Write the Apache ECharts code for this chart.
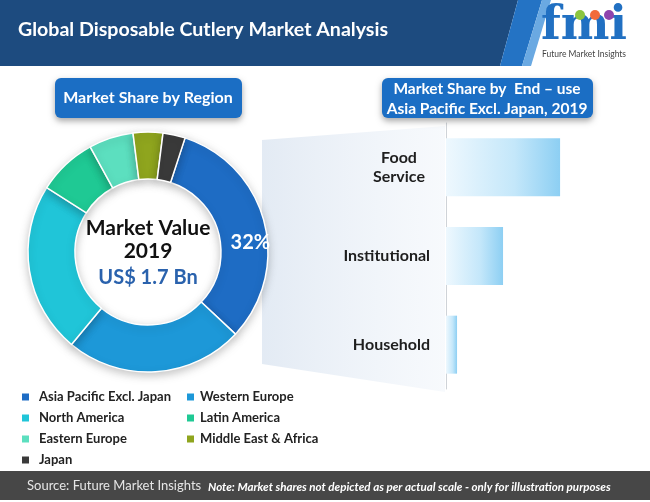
<!DOCTYPE html>
<html><head><meta charset="utf-8">
<script src="https://cdn.jsdelivr.net/npm/echarts@6/dist/echarts.min.js"></script>
<style>html,body{margin:0;padding:0;background:#fff}#c{width:650px;height:502px}</style>
</head><body><div id="c"></div>
<script>
// ---- data ----
const regionNames = ['Asia Pacific Excl. Japan','Western Europe','North America','Latin America','Eastern Europe','Middle East & Africa','Japan'];
const regionShares = [32, 24, 23, 8, 6, 4, 3];
const endUseCategories = ['Food Service','Institutional','Household'];
const endUseShares = [62, 31, 6];
const legendColA = ['Asia Pacific Excl. Japan','North America','Eastern Europe','Japan'];
const legendColB = ['Western Europe','Latin America','Middle East & Africa'];

// ---- palette ----
const regionColors = ['#1e6cc4','#1d98d8','#20c5d8','#1fc994','#5cdfbf','#8fa51e','#3a3a3a'];
const FONT = 'Lato';

const chart = echarts.init(document.getElementById('c'), null, {renderer:'canvas'});

const pieData = regionNames.map((n,i)=>{
  const d = {name:n, value:regionShares[i], itemStyle:{color:regionColors[i]}};
  if(i===0){
    d.label = {show:true, position:'inside', formatter:'{d}%', color:'#fff',
      fontFamily:FONT, fontWeight:'bold', fontSize:20, offset:[6,15]};
  }
  return d;
});

const legendCommon = {
  orient:'vertical', top:385.5, itemWidth:9, itemHeight:9, itemGap:8, icon:'rect',
  selectedMode:false,
  textStyle:{fontFamily:FONT, fontWeight:'bold', fontSize:13, color:'#222', lineHeight:13}
};

const option = {
  backgroundColor:'#ffffff',
  animation:false,
  legend:[
    Object.assign({}, legendCommon, {left:15, data:legendColA,
      textStyle:Object.assign({}, legendCommon.textStyle, {padding:[0,0,0,4]})}),
    Object.assign({}, legendCommon, {left:180, data:legendColB})
  ],
  grid:{left:446, right:20, top:123, bottom:113, containLabel:false},
  xAxis:{type:'value', min:0, max:100, show:false},
  yAxis:{type:'category', data:endUseCategories, inverse:true,
    axisLine:{show:true, lineStyle:{color:'#cfd3d8', width:1}},
    axisTick:{show:false}, splitLine:{show:false},
    axisLabel:{margin:16, fontFamily:FONT, fontWeight:'bold', fontSize:16, color:'#1e1e1e',
      formatter:function(v){
        if(v==='Food Service') return '{c|Food}\n{c|Service}';
        return v;
      },
      rich:{c:{width:62, align:'center', fontFamily:FONT, fontWeight:'bold', fontSize:16, color:'#1e1e1e', lineHeight:19}}
    }
  },
  series:[
    {
      type:'pie', name:'Market Share by Region',
      center:[148,252], radius:[73,120], startAngle:72, clockwise:true,
      label:{show:false}, labelLine:{show:false},
      emphasis:{disabled:true},
      itemStyle:{borderColor:'#ffffff', borderWidth:1.5, shadowBlur:8, shadowColor:'rgba(0,0,0,0.22)', shadowOffsetY:3},
      data:pieData, z:5
    },
    {
      type:'bar', name:'Market Share by End-use', data:endUseShares, barWidth:58,
      itemStyle:{color:new echarts.graphic.LinearGradient(0,0,1,0,[
        {offset:0, color:'#eef8fe'},{offset:0.6, color:'#c4e7fa'},{offset:1, color:'#8dcff3'}])},
      emphasis:{disabled:true}, z:5
    }
  ],
  graphic:[
    // light beam panel from donut to bars
    {type:'polygon', z:-10, shape:{points:[[262,140],[445,126],[445,392],[262,364]]},
      style:{fill:new echarts.graphic.LinearGradient(0,0,1,0,[
        {offset:0,color:'rgba(222,231,242,0.85)'},{offset:1,color:'rgba(242,246,251,0.6)'}])}},
    // header
    {type:'polygon', z:1, shape:{points:[[0,0],[518,0],[500,66],[0,66]]}, style:{fill:'#1d4b7f'}},
    {type:'polygon', z:1, shape:{points:[[518,0],[542,0],[522,66],[500,66]]}, style:{fill:'#2473c4'}},
    {type:'polygon', z:1, shape:{points:[[542,0],[551,0],[531,66],[522,66]]}, style:{fill:'#6aa9e2'}},
    {type:'text', z:2, left:18, top:20, style:{text:'Global Disposable Cutlery Market Analysis',
      fill:'#ffffff', font:'bold 19.6px '+FONT}},
    // logo
    {type:'text', z:2, left:541, top:4, style:{text:'fmi', fill:'#2170c2', font:'bold 46px "DejaVu Serif"'}},
    {type:'circle', z:3, shape:{cx:580, cy:15, r:5}, style:{fill:'#8cc63f'}},
    {type:'circle', z:3, shape:{cx:595, cy:15, r:5}, style:{fill:'#f26b3a'}},
    {type:'circle', z:3, shape:{cx:609, cy:15, r:5}, style:{fill:'#8e44ad'}},
    {type:'text', z:2, left:542, top:50, style:{text:'Future Market Insights', fill:'#444', font:'8.5px '+FONT}},
    // sub-title boxes
    {type:'rect', z:2, shape:{x:55, y:78, width:187, height:40, r:6},
      style:{fill:'#1b6ec4', shadowBlur:6, shadowOffsetY:3, shadowColor:'rgba(0,0,0,0.35)'}},
    {type:'text', z:3, x:148, y:98, style:{text:'Market Share by Region', fill:'#fff',
      font:'bold 16px '+FONT, align:'center', verticalAlign:'middle'}},
    {type:'rect', z:2, shape:{x:382, y:78, width:211, height:40, r:6},
      style:{fill:'#1b6ec4', shadowBlur:6, shadowOffsetY:3, shadowColor:'rgba(0,0,0,0.35)'}},
    {type:'text', z:3, x:487, y:99, style:{text:'Market Share by  End \u2013 use\nAsia Pacific Excl. Japan, 2019', fill:'#fff',
      font:'bold 15.5px '+FONT, align:'center', verticalAlign:'middle', lineHeight:20}},
    // donut centre text
    {type:'text', z:10, x:148, y:228, style:{text:'Market Value', fill:'#111', font:'bold 21px '+FONT, align:'center', verticalAlign:'middle'}},
    {type:'text', z:10, x:148, y:251, style:{text:'2019', fill:'#111', font:'bold 21px '+FONT, align:'center', verticalAlign:'middle'}},
    {type:'text', z:10, x:148, y:278, style:{text:'US$ 1.7 Bn', fill:'#2a62ad', font:'bold 20px '+FONT, align:'center', verticalAlign:'middle'}},
    // footer
    {type:'rect', z:1, shape:{x:0, y:471, width:650, height:29}, style:{fill:'#474747'}},
    {type:'text', z:2, x:27, y:486, style:{text:'Source: Future Market Insights', fill:'#e6e6e6', font:'13px '+FONT, verticalAlign:'middle'}},
    {type:'text', z:2, x:208, y:487, style:{text:'Note: Market shares not depicted as per actual scale - only for illustration purposes',
      fill:'#ffffff', font:'italic bold 11.6px '+FONT, verticalAlign:'middle'}}
  ]
};
chart.setOption(option);
</script>
</body></html>
